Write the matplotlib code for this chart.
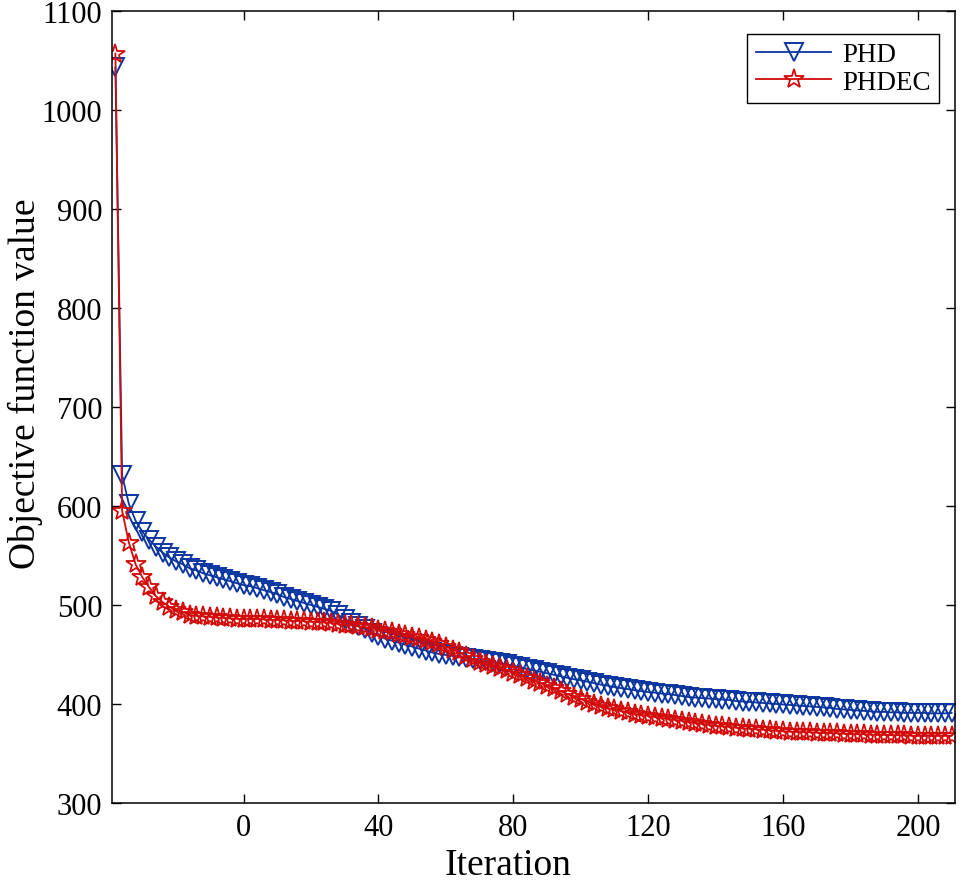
import matplotlib
matplotlib.use("Agg")
import matplotlib.pyplot as plt

# =========================
# Data
# =========================
iterations = list(range(-38, 211, 2))

phd = [
    1043, 631, 602, 585, 574, 566, 559, 553, 548, 544,
    541, 537, 535, 532, 530, 528, 526, 524, 522, 520,
    519, 517, 515, 513, 511, 508, 506, 504, 502, 500,
    498, 496, 494, 490, 486, 482, 479, 476, 472, 469,
    466, 464, 462, 460, 458, 456, 454, 452, 450.5, 449.5,
    448.5, 447.5, 446.5, 445.5, 444, 443, 442, 441, 440, 438.5,
    437, 435.5, 434, 432.5, 431, 429.5, 428, 426.5, 425, 424,
    422.5, 421, 419.5, 418.5, 417, 416, 415, 414, 413, 412,
    411.5, 410.5, 410, 409, 408, 407, 406.5, 406, 405.5, 405,
    404.5, 404, 403, 402.5, 402, 401.5, 401, 400.5, 400, 399.5,
    399, 398.5, 398, 397.5, 397, 396.5, 396, 395, 394.5, 394,
    393.5, 393, 392.5, 392, 392, 391.5, 391.5, 391, 391, 391,
    391, 390.5, 390.5, 390.5, 391,
]

phdec = [
    1057, 595, 563, 541, 528, 518, 509, 503, 498, 495,
    493, 490, 489, 488.5, 488, 487.5, 487, 486.5, 486, 486,
    486, 486, 485.5, 485, 485, 484.5, 484, 484, 483.5, 483,
    483, 482.5, 482, 481, 480, 479.5, 478.5, 477.5, 476.5, 475,
    474, 472.5, 471, 469.5, 468, 466.5, 465, 463, 460.5, 458,
    455, 452, 448.5, 445, 442, 440, 438, 436, 434, 431.5,
    429, 426, 423.5, 421, 418.5, 416, 413, 410, 407.5, 405,
    402.5, 400, 397.5, 396, 394.5, 393, 391.5, 390, 389, 388,
    387, 386, 385, 384, 383, 382, 381, 380, 379, 378,
    377.5, 377, 376, 375.5, 375, 374.5, 374, 373.5, 373, 372.5,
    372, 372, 371.5, 371.5, 371, 371, 370.5, 370.5, 370, 370,
    369.5, 369.5, 369, 369, 369, 368.5, 368.5, 368.5, 368, 368,
    368, 368, 368, 368, 368,
]

x_ticks = [0, 40, 80, 120, 160, 200]
y_ticks = [300, 400, 500, 600, 700, 800, 900, 1000, 1100]

# =========================
# Style
# =========================
plt.rcParams["font.family"] = ["Liberation Serif", "DejaVu Serif"]

BLUE = "#0b36a0"
RED = "#d20a0a"

fig = plt.figure(figsize=(9.64, 8.87), dpi=100)
ax = fig.add_axes([0.1162, 0.0936, 0.8745, 0.8929])

ax.plot(iterations, phd, color=BLUE, lw=1.3, marker="v", ms=13,
        mfc="none", mec=BLUE, mew=1.4, label="PHD")
ax.plot(iterations, phdec, color=RED, lw=1.3, marker="*", ms=15,
        mfc="none", mec=RED, mew=1.3, label="PHDEC")

ax.set_xlim(-39, 211)
ax.set_ylim(300, 1100)
ax.set_xticks(x_ticks)
ax.set_yticks(y_ticks)

ax.tick_params(direction="in", top=True, right=True, length=6.5,
               width=1.0, labelsize=22, pad=7)
for sp in ax.spines.values():
    sp.set_linewidth(1.1)

ax.set_xlabel("Iteration", fontsize=27)
ax.set_ylabel("Objective function value", fontsize=27)
ax.xaxis.set_label_coords(0.47, -0.056)
ax.yaxis.set_label_coords(-0.082, 0.53)

leg = ax.legend(loc="upper right", bbox_to_anchor=(0.981, 0.971),
                borderaxespad=0, fontsize=19.5, fancybox=False,
                framealpha=1, edgecolor="black", handlelength=2.8,
                handletextpad=0.4, borderpad=0.3, labelspacing=0.1)
leg.get_frame().set_linewidth(1.0)

fig.savefig("out.png", dpi=100)
